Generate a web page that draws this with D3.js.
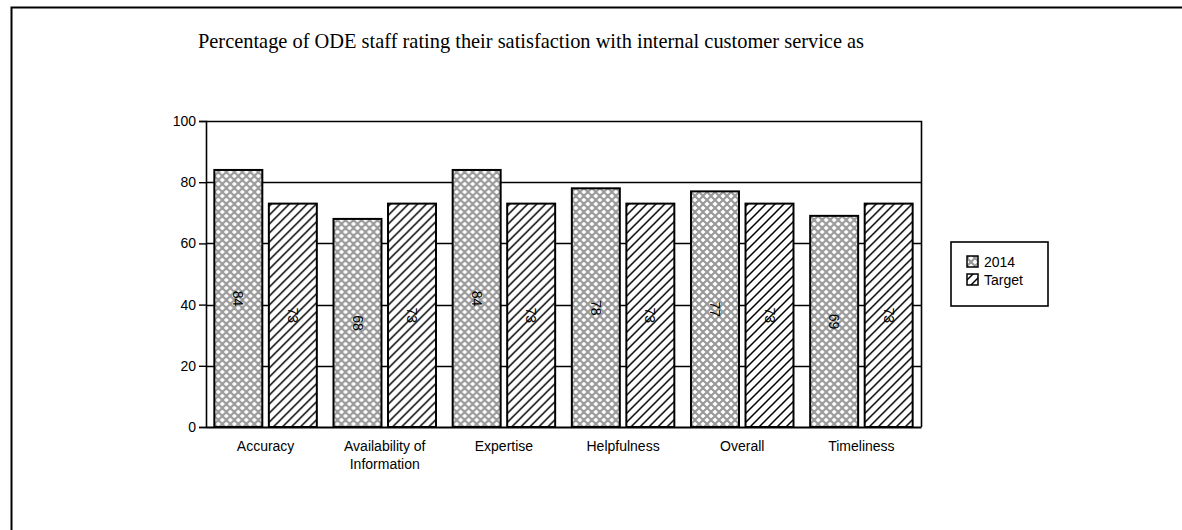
<!DOCTYPE html>
<html>
<head>
<meta charset="utf-8">
<script src="https://cdn.jsdelivr.net/npm/d3@7"></script>
<style>
  body { margin: 0; background: #fff; }
  svg { display: block; }
  .tick text { font-family: "Liberation Sans", Arial, sans-serif; font-size: 14px; fill: #000; }
</style>
</head>
<body>
<svg id="chart" width="1182" height="530"></svg>
<script>
// chart data
var categories = ["Accuracy", "Availability of\nInformation", "Expertise", "Helpfulness", "Overall", "Timeliness"];
var seriesNames = ["2014", "Target"];
var values2014 = [84, 68, 84, 78, 77, 69];
var valuesTarget = [73, 73, 73, 73, 73, 73];
var yTicks = [0, 20, 40, 60, 80, 100];
var titleText = "Percentage of ODE staff rating their satisfaction with internal customer service as";

var svg = d3.select("#chart");
var margin = {left: 206, top: 121, right: 921, bottom: 427};

/*
 *** Fill patterns: grey diamond crosshatch and black diagonal hatch
 */
var defs = svg.append("defs");

var cross = defs.append("pattern")
    .attr("id", "cross")
    .attr("patternUnits", "userSpaceOnUse")
    .attr("width", 8).attr("height", 8);
cross.append("rect").attr("width", 8).attr("height", 8).attr("fill", "#fff");
cross.append("path")
    .attr("d", "M0,0L8,8M-4,4L4,12M4,-4L12,4M0,8L8,0M-4,4L4,-4M4,12L12,4")
    .attr("stroke", "#9a9a9a").attr("stroke-width", 2.2);

var hatch = defs.append("pattern")
    .attr("id", "hatch")
    .attr("patternUnits", "userSpaceOnUse")
    .attr("width", 9).attr("height", 9);
hatch.append("rect").attr("width", 9).attr("height", 9).attr("fill", "#fff");
hatch.append("path")
    .attr("d", "M0,9L9,0M-2,2L2,-2M7,11L11,7")
    .attr("stroke", "#000").attr("stroke-width", 1.5);

var fills = ["url(#cross)", "url(#hatch)"];

// outer frame (only top and left edges are inside the window)
svg.append("path")
    .attr("d", "M11.5,540V7.5H1190")
    .attr("fill", "none").attr("stroke", "#000").attr("stroke-width", 2);

svg.append("text")
    .attr("x", 531).attr("y", 48)
    .attr("text-anchor", "middle")
    .attr("font-family", "Liberation Serif, 'Times New Roman', serif")
    .attr("font-size", "20.4px")
    .text(titleText);

// Scales
var x0 = d3.scaleBand().domain(d3.range(categories.length))
    .range([margin.left, margin.right]).paddingInner(0.14).paddingOuter(0.07);
var x1 = d3.scaleBand().domain(seriesNames).range([0, x0.bandwidth()]).paddingInner(0.12);
var y = d3.scaleLinear().domain([0, 100]).range([margin.bottom, margin.top]);

// gridlines
svg.append("g").selectAll("line")
    .data(yTicks.filter(function(d){ return d > 0 && d < 100; }))
    .enter().append("line")
    .attr("x1", margin.left).attr("x2", margin.right)
    .attr("y1", function(d){ return Math.round(y(d)) + 0.5; })
    .attr("y2", function(d){ return Math.round(y(d)) + 0.5; })
    .attr("stroke", "#000").attr("stroke-width", 1.4);

// plot frame top and right
svg.append("path")
    .attr("d", "M" + margin.left + "," + (margin.top + 0.5) + "H" + (margin.right + 0.5) + "V" + margin.bottom)
    .attr("fill", "none").attr("stroke", "#000").attr("stroke-width", 1.6);

// Bars
var rows = categories.map(function(c, i){
    return {i: i, vals: [values2014[i], valuesTarget[i]]};
});

var groups = svg.append("g").selectAll("g")
    .data(rows)
    .enter().append("g")
    .attr("transform", function(d){ return "translate(" + x0(d.i) + ",0)"; });

groups.selectAll("rect")
    .data(function(d){ return d.vals.map(function(v, k){ return {key: seriesNames[k], k: k, v: v}; }); })
    .enter().append("rect")
    .attr("x", function(d){ return x1(d.key); })
    .attr("width", x1.bandwidth())
    .attr("y", function(d){ return y(d.v); })
    .attr("height", function(d){ return y(0) - y(d.v); })
    .attr("fill", function(d){ return fills[d.k]; })
    .attr("stroke", "#000").attr("stroke-width", 2);

groups.selectAll("text.val")
    .data(function(d){ return d.vals.map(function(v, k){ return {key: seriesNames[k], k: k, v: v}; }); })
    .enter().append("text")
    .attr("class", "val")
    .attr("transform", function(d){
        var cx = x1(d.key) + x1.bandwidth() / 2;
        var cy = (y(d.v) + y(0)) / 2;
        return "translate(" + cx + "," + cy + ") rotate(90)";
    })
    .attr("text-anchor", "middle")
    .attr("dy", "0.35em")
    .attr("font-family", "Liberation Sans, Arial, sans-serif")
    .attr("font-size", "14px")
    .text(function(d){ return d.v; });

// Axes
var yAxis = svg.append("g")
    .attr("transform", "translate(" + margin.left + ",0)")
    .call(d3.axisLeft(y).tickValues(yTicks).tickSize(7).tickPadding(3));
yAxis.select(".domain").attr("stroke-width", 1.6);
yAxis.selectAll(".tick line").attr("stroke-width", 1.4);

var xAxis = svg.append("g")
    .attr("transform", "translate(0," + margin.bottom + ")")
    .call(d3.axisBottom(d3.scaleBand().domain(categories).range([margin.left, margin.right]))
        .tickSize(0).tickPadding(0));
xAxis.select(".domain").attr("stroke-width", 2);
xAxis.selectAll(".tick text").each(function(d){
    var t = d3.select(this).text(null).attr("y", 0).attr("dy", null);
    d.split("\n").forEach(function(line, n){
        t.append("tspan").attr("x", 0).attr("y", 24 + n * 18).text(line);
    });
});

// Legend
var legend = svg.append("g").attr("transform", "translate(951,242)");
legend.append("rect")
    .attr("width", 97).attr("height", 64)
    .attr("fill", "#fff").attr("stroke", "#000").attr("stroke-width", 1.6);
seriesNames.forEach(function(name, k){
    legend.append("rect")
        .attr("x", 16).attr("y", 14 + k * 18)
        .attr("width", 11).attr("height", 11)
        .attr("fill", fills[k]).attr("stroke", "#000").attr("stroke-width", 1.5);
    legend.append("text")
        .attr("x", 33).attr("y", 25 + k * 18)
        .attr("font-family", "Liberation Sans, Arial, sans-serif")
        .attr("font-size", "14px")
        .text(name);
});
</script>
</body>
</html>
